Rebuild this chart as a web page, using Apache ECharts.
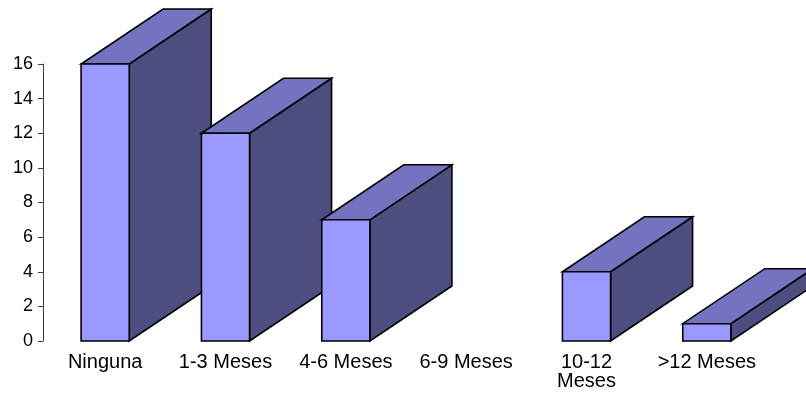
<!DOCTYPE html>
<html>
<head>
<meta charset="utf-8">
<style>
  html, body { margin: 0; padding: 0; background: #ffffff; }
  #chart { width: 806px; height: 398px; }
</style>
<script src="https://cdn.jsdelivr.net/npm/echarts@6/dist/echarts.min.js"></script>
</head>
<body>
<div id="chart"></div>
<script>
// Duration categories and counts
const categories = ['Ninguna', '1-3 Meses', '4-6 Meses', '6-9 Meses', '10-12\nMeses', '>12 Meses'];
const counts = [16, 12, 7, 0, 4, 1];
const yTicks = { min: 0, max: 16, step: 2 };

// Box faces
const FRONT = '#9999FF';
const TOP = '#7373BF';
const SIDE = '#4D4D7F';
const DEPTH_X = 82;
const DEPTH_Y = 55;

const chart = echarts.init(document.getElementById('chart'), null, { renderer: 'canvas' });

function renderBox(params, api) {
  const idx = api.value(0);
  const val = api.value(1);
  if (!val) return null;
  const top = api.coord([idx, val]);
  const base = api.coord([idx, 0]);
  const half = api.size([1, 0])[0] * 0.2;
  const x0 = top[0] - half, x1 = top[0] + half;
  const yT = top[1], yB = base[1];
  const stroke = { stroke: '#000', lineWidth: 1.6, lineJoin: 'miter' };
  return {
    type: 'group',
    children: [
      {
        type: 'polygon',
        shape: { points: [[x1, yT], [x1 + DEPTH_X, yT - DEPTH_Y], [x1 + DEPTH_X, yB - DEPTH_Y], [x1, yB]] },
        style: Object.assign({ fill: SIDE }, stroke)
      },
      {
        type: 'polygon',
        shape: { points: [[x0, yT], [x1, yT], [x1 + DEPTH_X, yT - DEPTH_Y], [x0 + DEPTH_X, yT - DEPTH_Y]] },
        style: Object.assign({ fill: TOP }, stroke)
      },
      {
        type: 'rect',
        shape: { x: x0, y: yT, width: x1 - x0, height: yB - yT },
        style: Object.assign({ fill: FRONT }, stroke)
      }
    ]
  };
}

chart.setOption({
  animation: false,
  backgroundColor: '#ffffff',
  grid: { left: 45, right: 39, top: 64, bottom: 57 },
  xAxis: {
    type: 'category',
    data: categories,
    axisLine: { show: false },
    axisTick: { show: false },
    axisLabel: {
      interval: 0,
      margin: 12,
      color: '#000',
      fontFamily: 'Liberation Sans, Arial, sans-serif',
      fontSize: 20,
      lineHeight: 19
    }
  },
  yAxis: {
    type: 'value',
    min: yTicks.min,
    max: yTicks.max,
    interval: yTicks.step,
    offset: 2,
    splitLine: { show: false },
    axisLine: { show: true, lineStyle: { color: '#404040', width: 1 } },
    axisTick: { show: true, length: 5, lineStyle: { color: '#404040', width: 1 } },
    axisLabel: {
      margin: 10,
      color: '#000',
      fontFamily: 'Liberation Sans, Arial, sans-serif',
      fontSize: 18
    }
  },
  series: [{
    type: 'custom',
    renderItem: renderBox,
    clip: false,
    data: counts.map((v, i) => [i, v])
  }]
});
</script>
</body>
</html>
